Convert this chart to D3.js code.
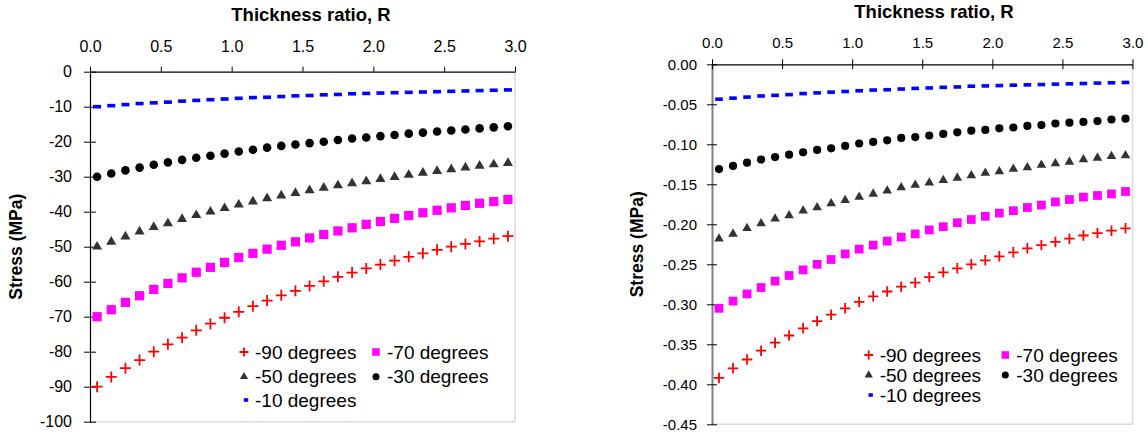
<!DOCTYPE html>
<html>
<head>
<meta charset="utf-8">
<script src="https://cdn.jsdelivr.net/npm/d3@7"></script>
<style>
  body { margin: 0; background: #fff; }
  svg { display: block; font-family: "Liberation Sans", Arial, sans-serif; }
  .tick text { fill: #000; }
</style>
</head>
<body>
<svg id="chart" width="1148" height="434"></svg>
<script>
// --- data ---
const ratio = [0.05, 0.15, 0.25, 0.35, 0.45, 0.55, 0.65, 0.75, 0.85, 0.95,
               1.05, 1.15, 1.25, 1.35, 1.45, 1.55, 1.65, 1.75, 1.85, 1.95,
               2.05, 2.15, 2.25, 2.35, 2.45, 2.55, 2.65, 2.75, 2.85, 2.95];

// left panel, stress in MPa
const mpaM90 = [-90.0, -87.2, -84.7, -82.4, -80.0, -77.9, -76.0, -73.9, -72.0, -70.3,
                -68.6, -67.0, -65.4, -63.9, -62.6, -61.2, -59.9, -58.6, -57.4, -56.2,
                -55.1, -54.0, -52.9, -51.9, -50.9, -50.0, -49.2, -48.5, -47.7, -47.0];
const mpaM70 = [-70.0, -68.0, -65.9, -64.0, -62.2, -60.5, -58.9, -57.3, -55.9, -54.5,
                -53.1, -51.9, -50.7, -49.6, -48.6, -47.5, -46.5, -45.5, -44.6, -43.6,
                -42.8, -41.9, -41.1, -40.3, -39.6, -38.9, -38.2, -37.6, -37.1, -36.5];
const mpaM50 = [-50.0, -48.6, -47.1, -45.7, -44.4, -43.3, -42.1, -41.0, -40.0, -39.0,
                -38.0, -37.1, -36.2, -35.4, -34.7, -33.9, -33.2, -32.5, -31.9, -31.3,
                -30.7, -30.1, -29.5, -28.9, -28.4, -27.9, -27.4, -26.9, -26.5, -26.1];
const mpaM30 = [-30.0, -29.1, -28.2, -27.4, -26.6, -25.9, -25.2, -24.6, -24.0, -23.4,
                -22.8, -22.3, -21.7, -21.2, -20.8, -20.4, -20.0, -19.5, -19.1, -18.8,
                -18.4, -18.1, -17.7, -17.4, -17.1, -16.8, -16.5, -16.2, -15.9, -15.6];
const mpaM10 = [-10.0, -9.7, -9.4, -9.1, -8.9, -8.7, -8.4, -8.2, -8.0, -7.8,
                -7.6, -7.4, -7.3, -7.1, -6.9, -6.8, -6.6, -6.5, -6.3, -6.2,
                -6.1, -6.0, -5.9, -5.8, -5.7, -5.6, -5.5, -5.4, -5.3, -5.2];

// right panel, stress in MPa (smaller scale)
const smallM90 = [-0.392, -0.380, -0.369, -0.358, -0.348, -0.339, -0.330, -0.321, -0.313, -0.305,
                  -0.297, -0.290, -0.284, -0.278, -0.273, -0.266, -0.260, -0.255, -0.250, -0.245,
                  -0.240, -0.235, -0.230, -0.226, -0.222, -0.218, -0.214, -0.211, -0.208, -0.205];
const smallM70 = [-0.305, -0.296, -0.287, -0.279, -0.271, -0.264, -0.257, -0.250, -0.244, -0.237,
                  -0.231, -0.226, -0.221, -0.216, -0.212, -0.207, -0.203, -0.198, -0.194, -0.190,
                  -0.186, -0.183, -0.179, -0.176, -0.172, -0.169, -0.166, -0.164, -0.162, -0.159];
const smallM50 = [-0.218, -0.212, -0.205, -0.199, -0.193, -0.189, -0.183, -0.179, -0.174, -0.170,
                  -0.166, -0.162, -0.158, -0.154, -0.151, -0.148, -0.145, -0.142, -0.139, -0.136,
                  -0.134, -0.131, -0.129, -0.126, -0.124, -0.122, -0.119, -0.117, -0.115, -0.114];
const smallM30 = [-0.131, -0.127, -0.123, -0.119, -0.116, -0.113, -0.110, -0.107, -0.105, -0.102,
                  -0.099, -0.097, -0.095, -0.092, -0.091, -0.089, -0.087, -0.085, -0.083, -0.082,
                  -0.080, -0.079, -0.077, -0.076, -0.074, -0.073, -0.072, -0.071, -0.069, -0.068];
const smallM10 = [-0.0436, -0.0423, -0.0410, -0.0396, -0.0388, -0.0379, -0.0366, -0.0357, -0.0348, -0.0340,
                  -0.0331, -0.0322, -0.0318, -0.0309, -0.0301, -0.0296, -0.0288, -0.0283, -0.0274, -0.0270,
                  -0.0266, -0.0261, -0.0257, -0.0253, -0.0248, -0.0244, -0.0240, -0.0235, -0.0231, -0.0227];

const seriesNames = ["-90 degrees", "-70 degrees", "-50 degrees", "-30 degrees", "-10 degrees"];
const xTicks = [0, 0.5, 1.0, 1.5, 2.0, 2.5, 3.0];
const yTicksLeft = [0, -10, -20, -30, -40, -50, -60, -70, -80, -90, -100];
const yTicksRight = [0, -0.05, -0.10, -0.15, -0.20, -0.25, -0.30, -0.35, -0.40, -0.45];

// --- marker styles ---
const markerStyle = [
  { kind: "cross", color: "#ff0000" },
  { kind: "square", color: "#ff00ff" },
  { kind: "triangle", color: "#333333" },
  { kind: "circle", color: "#000000" },
  { kind: "dash", color: "#0000ff" }
];

const svg = d3.select("#chart");

function drawMarker(sel, kind, color, s) {
  if (kind === "cross") {
    sel.append("path").attr("d", `M${-5.5 * s},0H${5.5 * s}M0,${-5.5 * s}V${5.5 * s}`)
      .attr("stroke", color).attr("stroke-width", 1.8).attr("fill", "none");
  } else if (kind === "square") {
    sel.append("rect").attr("x", -4.6 * s).attr("y", -4.6 * s)
      .attr("width", 9.2 * s).attr("height", 9.2 * s).attr("fill", color);
  } else if (kind === "triangle") {
    sel.append("path").attr("d", d3.symbol(d3.symbolTriangle, 44 * s * s)()).attr("fill", color);
  } else if (kind === "circle") {
    sel.append("circle").attr("r", 4.3 * s).attr("fill", color);
  } else {
    sel.append("rect").attr("x", -4 * s).attr("y", -1.8).attr("width", 8 * s)
      .attr("height", 3.6).attr("fill", color);
  }
}

function drawPanel(p) {
  const x = d3.scaleLinear().domain([0, 3]).range([p.left, p.right]);
  const y = d3.scaleLinear().domain([p.yMin, 0]).range([p.bottom, p.top]);
  const g = svg.append("g");

  // plot-area border (right and bottom)
  g.append("path")
    .attr("d", `M${p.right},${p.top}V${p.bottom}H${p.left}`)
    .attr("fill", "none").attr("stroke", "#d9d9d9").attr("stroke-width", 1.5);

  // y axis
  const yAxis = g.append("g").attr("transform", `translate(${p.left},0)`)
    .call(d3.axisLeft(y).tickValues(p.yTicks).tickFormat(p.yFormat)
      .tickSize(p.yTick).tickSizeOuter(0).tickPadding(p.yPad));
  yAxis.select(".domain").attr("stroke", p.yAxisColor).attr("stroke-width", p.yAxisWidth);
  yAxis.selectAll(".tick line").attr("x1", -p.yTick).attr("x2", p.yTick).attr("stroke", "#000");
  yAxis.selectAll(".tick text").attr("font-size", p.tickFont);

  // x axis (top)
  const xAxis = g.append("g").attr("transform", `translate(0,${p.top})`)
    .call(d3.axisTop(x).tickValues(xTicks).tickFormat(d => d.toFixed(1))
      .tickSize(5).tickSizeOuter(0).tickPadding(p.xPad));
  xAxis.select(".domain").attr("stroke", "#000").attr("stroke-width", 1.2);
  xAxis.selectAll(".tick line").attr("y1", p.xCross ? 5 : 0).attr("y2", -5).attr("stroke", "#000");
  xAxis.selectAll(".tick text").attr("font-size", p.tickFont);

  // titles
  g.append("text").attr("x", p.titleX).attr("y", p.titleY)
    .attr("text-anchor", "middle").attr("font-weight", "bold").attr("font-size", 18.5)
    .text("Thickness ratio, R");
  g.append("text")
    .attr("transform", `translate(${p.yTitleX},${(p.top + p.bottom) / 2}) rotate(-90)`)
    .attr("text-anchor", "middle").attr("font-weight", "bold").attr("font-size", 17.5)
    .text("Stress (MPa)");

  // series, drawn back to front
  p.series.forEach((vals, i) => {
    const st = markerStyle[i];
    const pts = g.append("g").selectAll("g").data(ratio.map((r, k) => [r, vals[k]]))
      .join("g").attr("transform", d => `translate(${x(d[0])},${y(d[1])})`);
    pts.each(function () { drawMarker(d3.select(this), st.kind, st.color, p.markScale); });
  });

  // legend
  const lg = g.append("g");
  seriesNames.forEach((name, i) => {
    const col = i === 4 ? 0 : i % 2;
    const row = Math.floor(i / 2);
    const mx = p.legX[col], my = p.legY[row];
    const item = lg.append("g").attr("transform", `translate(${mx + (i === 4 ? 2 : 0)},${my})`);
    drawMarker(item, markerStyle[i].kind, markerStyle[i].color, i === 4 ? 0.55 : 0.82);
    lg.append("text").attr("x", mx + 11).attr("y", my + 6.6)
      .attr("font-size", p.legFont).text(name);
  });
}

drawPanel({
  left: 90, right: 515, top: 71.7, bottom: 421.7, yMin: -100,
  yTicks: yTicksLeft, yFormat: d => String(d), yTick: 6, yPad: 12,
  yAxisColor: "#000", yAxisWidth: 1.2, xPad: 15, xCross: false,
  tickFont: 16, legFont: 19, titleX: 311, titleY: 21, yTitleX: 22,
  series: [mpaM90, mpaM70, mpaM50, mpaM30, mpaM10], markScale: 1,
  legX: [244, 376], legY: [352, 376.7, 400]
});

drawPanel({
  left: 712, right: 1132.5, top: 64.3, bottom: 424.3, yMin: -0.45,
  yTicks: yTicksRight, yFormat: d => d.toFixed(2), yTick: 5, yPad: 10,
  yAxisColor: "#808080", yAxisWidth: 2, xPad: 11, xCross: true,
  tickFont: 15, legFont: 19, titleX: 934, titleY: 18, yTitleX: 643,
  series: [smallM90, smallM70, smallM50, smallM30, smallM10], markScale: 0.95,
  legX: [868.7, 1005.3], legY: [355, 375, 395]
});
</script>
</body>
</html>
